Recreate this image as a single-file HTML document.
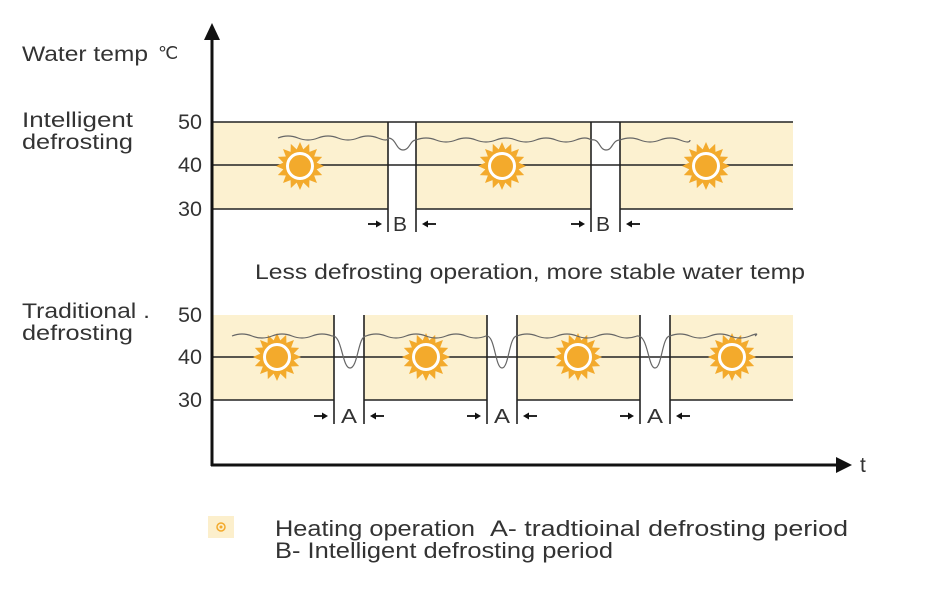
<!DOCTYPE html>
<html><head><meta charset="utf-8"><style>
html,body{margin:0;padding:0;background:#fff;}
svg{display:block;font-family:"Liberation Sans",sans-serif;}
</style></head><body>
<svg width="942" height="600" viewBox="0 0 942 600" xmlns="http://www.w3.org/2000/svg">
<defs>
<g id="sun">
<polygon fill="#f3aa2c" points="24,0 16.67,3.32 22.17,9.18 14.14,9.44 16.97,16.97 9.44,14.14 9.18,22.17 3.32,16.67 0,24 -3.32,16.67 -9.18,22.17 -9.44,14.14 -16.97,16.97 -14.14,9.44 -22.17,9.18 -16.67,3.32 -24,0 -16.67,-3.32 -22.17,-9.18 -14.14,-9.44 -16.97,-16.97 -9.44,-14.14 -9.18,-22.17 -3.32,-16.67 0,-24 3.32,-16.67 9.18,-22.17 9.44,-14.14 16.97,-16.97 14.14,-9.44 22.17,-9.18 16.67,-3.32"/>
<circle r="16" fill="#f3aa2c"/>
<circle r="12.5" fill="none" stroke="#fff" stroke-width="3"/>
<circle r="9" fill="#f3aa2c"/>
</g>
<g id="ra"><line x1="0" y1="0" x2="11" y2="0" stroke="#111" stroke-width="1.8"/><polygon points="14,0 8,-3.5 8,3.5" fill="#111"/></g>
<g id="la"><line x1="0" y1="0" x2="-11" y2="0" stroke="#111" stroke-width="1.8"/><polygon points="-14,0 -8,-3.5 -8,3.5" fill="#111"/></g>
</defs>
<g fill="#fcf1d0">
<rect x="213" y="122" width="175" height="87"/>
<rect x="416" y="122" width="175" height="87"/>
<rect x="620" y="122" width="173" height="87"/>
<rect x="213" y="315" width="121" height="85"/>
<rect x="364" y="315" width="123" height="85"/>
<rect x="517" y="315" width="123" height="85"/>
<rect x="670" y="315" width="123" height="85"/>
</g>
<g stroke="#222" stroke-width="1.6" fill="none">
<line x1="212" y1="122" x2="793" y2="122"/>
<line x1="212" y1="165" x2="793" y2="165"/>
<path d="M212 209H388 M416 209H591 M620 209H793"/>
<path d="M388 122V232 M416 122V232 M591 122V232 M620 122V232"/>
<line x1="212" y1="357" x2="793" y2="357"/>
<path d="M212 400H334 M364 400H487 M517 400H640 M670 400H793"/>
<path d="M334 315V424 M364 315V424 M487 315V424 M517 315V424 M640 315V424 M670 315V424"/>
</g>
<use href="#sun" x="300" y="166"/>
<use href="#sun" x="502" y="166"/>
<use href="#sun" x="706" y="166"/>
<use href="#sun" x="277" y="357"/>
<use href="#sun" x="426" y="357"/>
<use href="#sun" x="578" y="357"/>
<use href="#sun" x="732" y="357"/>
<g stroke="#666" stroke-width="1.2" fill="none">
<path d="M278 138 q10 -4 20 0 t20 0 t20 0 t20 0 t20 0 t10 0 C396 138 396 150 403 150 C410 150 410 140 416 140 q10 -4 20 0 t20 0 t20 0 t20 0 t20 0 t20 0 t20 0 t20 0 t15 0 C600 138 599 150 606 150 C613 150 612 140 620 140 q10 -4 20 0 t20 0 t20 0 t10 0"/>
<path d="M232 336 q10 -4 20 0 t20 0 t20 0 t20 0 t20 0 C342 334 342 368 350 368 C358 368 358 336 366 336 q10 -4 20 0 t20 0 t20 0 t20 0 t20 0 t20 0 C495 334 495 368 502 368 C509 368 509 336 517 336 q10 -4 20 0 t20 0 t20 0 t20 0 t20 0 t20 0 C648 334 648 368 655 368 C662 368 662 336 670 336 q10 -4 20 0 t20 0 t20 0 t20 0 t5 0"/>
</g>
<g stroke="#111" stroke-width="3">
<line x1="212" y1="36" x2="212" y2="466"/>
<line x1="211" y1="465" x2="838" y2="465"/>
</g>
<polygon points="212,23 204,40 220,40" fill="#111"/>
<polygon points="852,465 836,457 836,473" fill="#111"/>
<use href="#ra" x="368" y="224"/><use href="#la" x="436" y="224"/>
<use href="#ra" x="571" y="224"/><use href="#la" x="640" y="224"/>
<use href="#ra" x="314" y="416"/><use href="#la" x="384" y="416"/>
<use href="#ra" x="467" y="416"/><use href="#la" x="537" y="416"/>
<use href="#ra" x="620" y="416"/><use href="#la" x="690" y="416"/>
<g fill="#333" font-size="20">
<text x="393" y="231" textLength="14" lengthAdjust="spacingAndGlyphs">B</text><text x="596" y="231" textLength="14" lengthAdjust="spacingAndGlyphs">B</text>
<text x="341" y="423" textLength="16" lengthAdjust="spacingAndGlyphs">A</text><text x="494" y="423" textLength="16" lengthAdjust="spacingAndGlyphs">A</text><text x="647" y="423" textLength="16" lengthAdjust="spacingAndGlyphs">A</text>
</g>
<g fill="#333" font-size="21" lengthAdjust="spacingAndGlyphs">
<text x="22" y="61" textLength="126" lengthAdjust="spacingAndGlyphs">Water temp</text><text x="158" y="59" font-size="18">℃</text>
<text x="22" y="127" textLength="111" lengthAdjust="spacingAndGlyphs">Intelligent</text><text x="22" y="149" textLength="111" lengthAdjust="spacingAndGlyphs">defrosting</text>
<text x="178" y="129" textLength="24" lengthAdjust="spacingAndGlyphs">50</text><text x="178" y="172" textLength="24" lengthAdjust="spacingAndGlyphs">40</text><text x="178" y="216" textLength="24" lengthAdjust="spacingAndGlyphs">30</text>
<text x="22" y="318" textLength="128" lengthAdjust="spacingAndGlyphs">Traditional .</text><text x="22" y="340" textLength="111" lengthAdjust="spacingAndGlyphs">defrosting</text>
<text x="178" y="322" textLength="24" lengthAdjust="spacingAndGlyphs">50</text><text x="178" y="364" textLength="24" lengthAdjust="spacingAndGlyphs">40</text><text x="178" y="407" textLength="24" lengthAdjust="spacingAndGlyphs">30</text>
<text x="255" y="279" textLength="550" lengthAdjust="spacingAndGlyphs">Less defrosting operation, more stable water temp</text>
<text x="860" y="472">t</text>
</g>
<rect x="208" y="516" width="26" height="22" fill="#fcefcc"/>
<circle cx="221" cy="527" r="4" fill="none" stroke="#f3aa2c" stroke-width="1.5"/>
<circle cx="221" cy="527" r="1.5" fill="#f3aa2c"/>
<g fill="#333" font-size="22">
<text x="275" y="536" textLength="200" lengthAdjust="spacingAndGlyphs">Heating operation</text>
<text x="490" y="536" textLength="358" lengthAdjust="spacingAndGlyphs">A- tradtioinal defrosting period</text>
<text x="275" y="558" textLength="338" lengthAdjust="spacingAndGlyphs">B- Intelligent defrosting period</text>
</g>
</svg>
</body></html>
